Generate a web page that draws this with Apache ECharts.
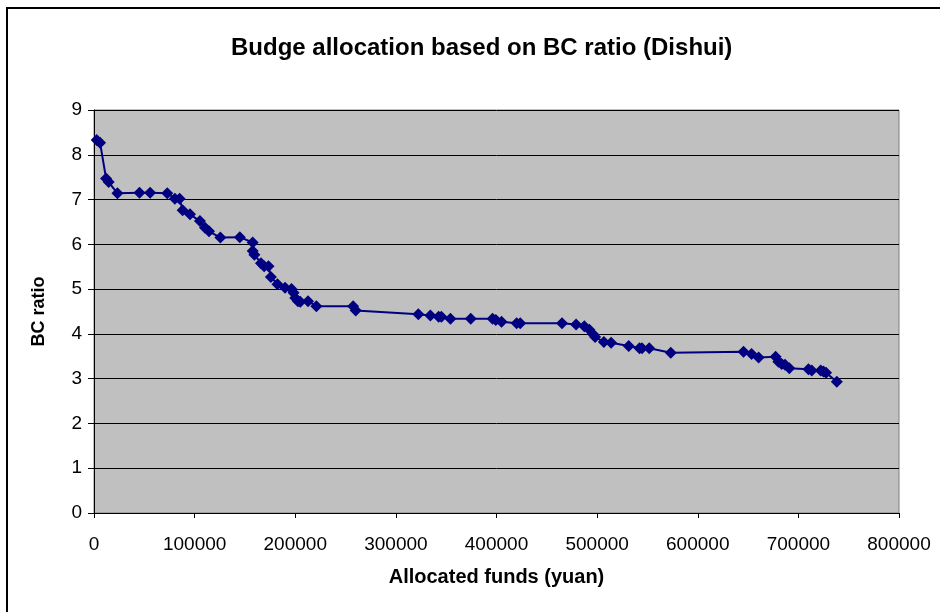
<!DOCTYPE html>
<html>
<head>
<meta charset="utf-8">
<script src="https://cdn.jsdelivr.net/npm/echarts@6/dist/echarts.min.js"></script>
<style>
html,body{margin:0;padding:0;background:#fff;overflow:hidden;width:940px;height:612px;}
#wrap{position:absolute;left:0;top:0;width:940px;height:612px;overflow:hidden;}
#frame{position:absolute;left:6px;top:7px;width:934px;height:605px;border-left:2px solid #000;border-top:2px solid #000;box-sizing:border-box;}
#chart{position:absolute;left:0;top:0;width:940px;height:612px;}
</style>
</head>
<body>
<div id="wrap">
<div id="frame"></div>
<div id="chart"></div>
</div>
<script>
const titleText = 'Budge allocation based on BC ratio (Dishui)';
const xName = 'Allocated funds (yuan)';
const yName = 'BC ratio';

const funds = [2700, 6000, 12000, 14600, 23300, 45200, 55800, 72800, 80400, 85100,
  88100, 95400, 105300, 110300, 114300, 125600, 144900, 157700, 157700, 159400,
  165900, 169100, 173400, 175800, 182300, 189900, 196300, 198300, 200000, 202700,
  205000, 212700, 221000, 257500, 260100, 322300, 334300, 342500, 345200, 354200,
  374400, 396100, 399300, 405000, 420000, 423600, 465100, 479100, 487300, 492300,
  495700, 498000, 506700, 513900, 531400, 542100, 544600, 551800, 573200, 645500,
  653500, 660500, 677400, 680100, 683400, 686700, 691000, 710000, 713300, 722200,
  724900, 727500, 738200];
const bcRatio = [8.33, 8.27, 7.47, 7.39, 7.14, 7.15, 7.15, 7.14, 7.02, 7.02,
  6.76, 6.67, 6.52, 6.37, 6.29, 6.15, 6.16, 6.04, 5.85, 5.77,
  5.58, 5.51, 5.51, 5.27, 5.11, 5.03, 5.00, 4.92, 4.80, 4.73,
  4.72, 4.73, 4.62, 4.62, 4.52, 4.44, 4.41, 4.38, 4.38, 4.34,
  4.34, 4.34, 4.31, 4.27, 4.24, 4.24, 4.24, 4.21, 4.17, 4.09,
  4.00, 3.93, 3.82, 3.80, 3.73, 3.68, 3.68, 3.68, 3.58, 3.60,
  3.55, 3.47, 3.49, 3.38, 3.33, 3.31, 3.23, 3.21, 3.18, 3.18,
  3.16, 3.13, 2.93];

const data = funds.map((f, i) => [f, bcRatio[i]]);

const chart = echarts.init(document.getElementById('chart'), null, {renderer: 'canvas'});
const font = 'Liberation Sans, Arial, sans-serif';
chart.setOption({
  backgroundColor: 'transparent',
  animation: false,
  title: {
    text: titleText,
    left: 226, top: 31,
    textStyle: {fontFamily: font, fontSize: 24, fontWeight: 'bold', color: '#000'}
  },
  grid: {left: 94, right: 41, top: 110, bottom: 99, show: true,
    backgroundColor: '#C0C0C0', borderColor: '#808080', borderWidth: 1},
  xAxis: {
    type: 'value', min: 0, max: 800000, interval: 100000,
    name: xName, nameLocation: 'middle', nameGap: 54,
    nameTextStyle: {fontFamily: font, fontSize: 20, fontWeight: 'bold', color: '#000'},
    axisLine: {show: true, lineStyle: {color: '#000', width: 1}},
    axisTick: {show: true, length: 5, lineStyle: {color: '#000'}},
    axisLabel: {fontFamily: font, fontSize: 19, color: '#000', margin: 22,
      formatter: v => String(v)},
    splitLine: {show: false}
  },
  yAxis: {
    type: 'value', min: 0, max: 9, interval: 1,
    name: yName, nameLocation: 'middle', nameGap: 46,
    nameTextStyle: {fontFamily: font, fontSize: 18, fontWeight: 'bold', color: '#000'},
    axisLine: {show: true, lineStyle: {color: '#000', width: 1}},
    axisTick: {show: true, length: 6, lineStyle: {color: '#000'}},
    axisLabel: {fontFamily: font, fontSize: 19, color: '#000', margin: 12},
    splitLine: {show: true, lineStyle: {color: '#000', width: 1}}
  },
  series: [{
    type: 'line',
    data: data,
    symbol: 'diamond',
    symbolSize: 12,
    showAllSymbol: true,
    lineStyle: {color: '#000080', width: 2},
    itemStyle: {color: '#000080', borderWidth: 0}
  }]
});
</script>
</body>
</html>
